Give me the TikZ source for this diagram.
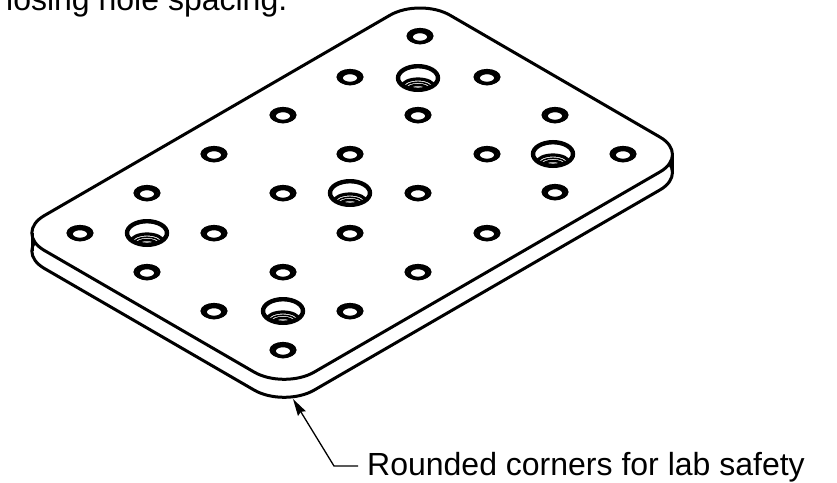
\documentclass[tikz,border=0pt]{standalone}
\usepackage{fontspec}
\setmainfont{Liberation Sans}
\usetikzlibrary{arrows.meta,calc}
\newcommand{\platepath}{
 (390,15.2) .. controls (406.6,5.6) and (433.4,5.6) .. (450,15.2)
 -- (660,137.1) .. controls (676.6,146.7) and (676.6,162.3) .. (660,171.9)
 -- (314.2,372.1) .. controls (297.6,381.7) and (270.8,381.7) .. (254.2,372.1)
 -- (44.3,250.4) .. controls (27.7,240.8) and (27.7,225.2) .. (44.3,215.6)
 -- cycle
}
\tikzset{
 edge/.style={line width=3pt,line join=round},
 holeouter/.style={line width=3pt},
 holeinner/.style={line width=3.6pt},
 leader/.style={line width=1.3pt}
}
\newcommand{\smallhole}[2]{
 \draw[holeouter] (#1,#2) ellipse [x radius=12,y radius=6.6];
 \draw[holeinner] (#1,#2+1) ellipse [x radius=9,y radius=5.6];
}
\newcommand{\bighole}[2]{
 \begin{scope}
  \clip (#1,#2) ellipse [x radius=20,y radius=11.8];
  \draw[line width=3.2pt] (#1,#2+8.5) ellipse [x radius=16,y radius=7.5];
  \draw[line width=1.5pt] (#1,#2+9.5) ellipse [x radius=12.5,y radius=5.3];
  \draw[line width=2.5pt] (#1,#2+10) ellipse [x radius=9,y radius=3];
 \end{scope}
 \draw[line width=4.4pt] (#1,#2) ellipse [x radius=20,y radius=11.8];
}
\begin{document}
\begin{tikzpicture}[x=1pt,y=-1pt]
\useasboundingbox (0,0) rectangle (837,482);
\clip (0,0) rectangle (837,482);
\begin{scope}[shift={(0,18)}]
\draw[edge] \platepath;
\end{scope}
\fill[white] \platepath;
\draw[edge] \platepath;
\coordinate (ll) at (32,233);
\coordinate (lr) at (32,251);
\coordinate (rl) at (672,154.5);
\coordinate (rr) at (672,172.5);
\draw[edge] (ll) -- (lr);
\draw[edge] (rl) -- (rr);
\foreach \p/\q in {420/36,350/77,487/77,283/115,418/115,555/115,214/154,350/154,487/154,623/154,147/193,283/193,418/193,555/192,80/233,214/233,350/233,487/233,147/272,283/272,418/272,214/311,350/311,283/350}{\smallhole{\p}{\q}}
\foreach \p/\q in {418/78,553/154,350/193,147/233,283/311}{\bighole{\p}{\q}}
\node[inner sep=0pt,anchor=base west,font=\fontsize{32}{32}\selectfont] (cap) at (6,10) {losing hole spacing.};
\node[inner sep=0pt,anchor=base west,font=\fontsize{32}{34}\selectfont] (lab) at (367,475) {Rounded corners for lab safety};
\coordinate (tip) at (293,399);
\coordinate (elbow) at (334,466);
\coordinate (free) at (358,466);
\draw[leader,line join=miter,-{Stealth[length=17pt,width=9pt,inset=2pt]}] (free) -- (elbow) -- (tip);
\end{tikzpicture}
\end{document}
